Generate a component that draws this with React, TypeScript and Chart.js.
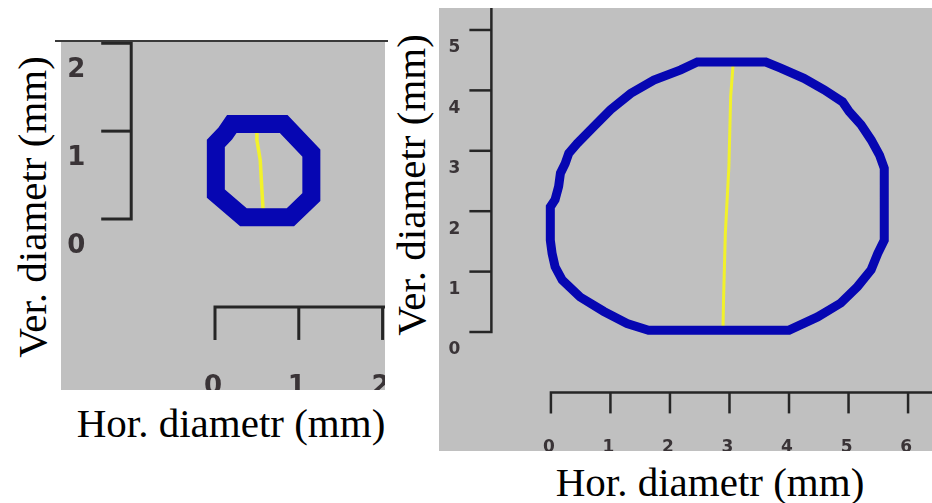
import { useEffect, useRef } from "react";
import { Chart, registerables } from "chart.js";

Chart.register(...registerables);

// Small cross-section (mm): closed contour and its vertical chord
const smallContourX = [0.2, 0.82, 1.15, 1.15, 0.9, 0.34, 0.01, 0.01, 0.12, 0.2];
const smallContourY = [1.08, 1.08, 0.75, 0.25, 0.02, 0.02, 0.29, 0.86, 0.97, 1.08];
const smallChordX = [0.5, 0.5, 0.54, 0.56, 0.58];
const smallChordY = [1.05, 0.9, 0.67, 0.33, 0.01];
const smallTicksX = [0, 1, 2];
const smallTicksY = [0, 1, 2];
const smallTickLabelsX = ["0", "1", "2"];
const smallTickLabelsY = ["0", "1", "2"];

// Large cross-section (mm): closed contour and its vertical chord
const largeContourX = [
  2.46, 3.61, 3.86, 4.25, 4.59, 4.9, 5.01, 5.21, 5.38, 5.52, 5.6, 5.6, 5.49, 5.38, 5.15, 4.87, 4.48, 4.0,
  1.64, 1.28, 0.89, 0.49, 0.19, 0.07, 0.02, -0.01, -0.01, 0.07, 0.13, 0.16, 0.24, 0.3, 0.44, 0.72, 1.0,
  1.34, 1.73, 2.18, 2.46,
];
const largeContourY = [
  4.47, 4.47, 4.37, 4.2, 4.01, 3.81, 3.65, 3.43, 3.18, 2.93, 2.71, 1.52, 1.3, 1.03, 0.75, 0.48, 0.25, 0.03,
  0.03, 0.14, 0.34, 0.58, 0.86, 1.08, 1.3, 1.52, 2.07, 2.19, 2.41, 2.63, 2.79, 2.96, 3.12, 3.4, 3.68,
  3.95, 4.17, 4.34, 4.47,
];
const largeChordX = [3.06, 3.02, 2.99, 2.93, 2.9, 2.89];
const largeChordY = [4.42, 3.9, 2.74, 1.63, 0.53, 0.01];
const largeTicksX = [0, 1, 2, 3, 4, 5, 6];
const largeTicksY = [0, 1, 2, 3, 4, 5];
const largeTickLabelsX = ["0", "1", "2", "3", "4", "5", "6"];
const largeTickLabelsY = ["0", "1", "2", "3", "4", "5"];

const horTitle = "Hor. diametr (mm)";
const verTitle = "Ver. diametr (mm)";

const zip = (xs: number[], ys: number[]) => xs.map((x, i) => ({ x, y: ys[i] }));

// A closed contour: the first segment is repeated so the stroke joins cleanly.
const closedLoop = (xs: number[], ys: number[]) => {
  const pts = zip(xs, ys);
  return pts.length > 1 ? [...pts, pts[1]] : pts;
};

type RulerStyle = {
  at: number;
  lineWidth: number;
  yTickLen: number;
  xTickLen: number;
  yToEdge: boolean;
  font: string;
  yLabelDx: number;
  yLabelDy: number;
  xLabelDx: number;
  xLabelDy: number;
};

type PanelProps = {
  left: number;
  top: number;
  width: number;
  height: number;
  xRange: [number, number];
  yRange: [number, number];
  contourX: number[];
  contourY: number[];
  chordX: number[];
  chordY: number[];
  contourWidth: number;
  chordWidth: number;
  ticksX: number[];
  ticksY: number[];
  labelsX: string[];
  labelsY: string[];
  ruler: RulerStyle;
};

// Ruler-style axes: a vertical ruler at x = at and a horizontal ruler at y = at,
// both drawn through the chart's own scales.
function rulerPlugin(p: PanelProps) {
  return {
    id: "rulers",
    afterDatasetsDraw(chart: any) {
      const { ctx, chartArea, scales } = chart;
      const sx = scales.x;
      const sy = scales.y;
      const r = p.ruler;
      const vx = sx.getPixelForValue(r.at);
      const hy = sy.getPixelForValue(r.at);
      ctx.save();
      ctx.strokeStyle = "#262626";
      ctx.lineWidth = r.lineWidth;
      ctx.lineCap = "butt";
      ctx.lineJoin = "miter";

      // vertical ruler
      const y0 = sy.getPixelForValue(p.ticksY[0]);
      const yEnd = r.yToEdge ? chartArea.top : sy.getPixelForValue(p.ticksY[p.ticksY.length - 1]);
      ctx.beginPath();
      ctx.moveTo(vx - r.yTickLen, y0);
      ctx.lineTo(vx, y0);
      ctx.lineTo(vx, yEnd);
      if (!r.yToEdge) ctx.lineTo(vx - r.yTickLen, yEnd);
      ctx.stroke();
      p.ticksY.forEach((t, i) => {
        const py = sy.getPixelForValue(t);
        if (i > 0 && (r.yToEdge || i < p.ticksY.length - 1)) {
          ctx.beginPath();
          ctx.moveTo(vx - r.yTickLen, py);
          ctx.lineTo(vx, py);
          ctx.stroke();
        }
      });

      // horizontal ruler
      const x0 = sx.getPixelForValue(p.ticksX[0]);
      ctx.beginPath();
      ctx.moveTo(x0, hy + r.xTickLen);
      ctx.lineTo(x0, hy);
      ctx.lineTo(chartArea.right, hy);
      ctx.stroke();
      p.ticksX.forEach((t, i) => {
        if (i === 0) return;
        const px = sx.getPixelForValue(t);
        ctx.beginPath();
        ctx.moveTo(px, hy);
        ctx.lineTo(px, hy + r.xTickLen);
        ctx.stroke();
      });

      // tick labels
      ctx.fillStyle = "#3a3437";
      ctx.font = r.font;
      ctx.textAlign = "center";
      ctx.textBaseline = "middle";
      p.ticksY.forEach((t, i) => {
        ctx.fillText(p.labelsY[i], vx + r.yLabelDx, sy.getPixelForValue(t) + r.yLabelDy);
      });
      p.ticksX.forEach((t, i) => {
        ctx.fillText(p.labelsX[i], sx.getPixelForValue(t) + r.xLabelDx, hy + r.xLabelDy);
      });
      ctx.restore();
    },
  };
}

function Panel(p: PanelProps) {
  const ref = useRef<HTMLCanvasElement | null>(null);
  useEffect(() => {
    if (!ref.current) return;
    const chart = new Chart(ref.current, {
      type: "scatter",
      data: {
        datasets: [
          {
            data: closedLoop(p.contourX, p.contourY),
            showLine: true,
            borderColor: "#0606b2",
            borderWidth: p.contourWidth,
            borderJoinStyle: "miter",
            pointRadius: 0,
            fill: false,
            tension: 0,
          },
          {
            data: zip(p.chordX, p.chordY),
            showLine: true,
            borderColor: "#f2f22a",
            borderWidth: p.chordWidth,
            borderJoinStyle: "round",
            pointRadius: 0,
            fill: false,
            tension: 0,
          },
        ],
      },
      options: {
        animation: false,
        responsive: false,
        devicePixelRatio: 1,
        layout: { padding: 0 },
        events: [],
        scales: {
          x: { type: "linear", display: false, min: p.xRange[0], max: p.xRange[1] },
          y: { type: "linear", display: false, min: p.yRange[0], max: p.yRange[1] },
        },
        plugins: { legend: { display: false }, tooltip: { enabled: false } },
      },
      plugins: [rulerPlugin(p)],
    });
    return () => chart.destroy();
  }, []);
  return (
    <canvas
      ref={ref}
      width={p.width}
      height={p.height}
      style={{
        position: "absolute",
        left: p.left,
        top: p.top,
        width: p.width,
        height: p.height,
        background: "#c0c0c0",
      }}
    />
  );
}

const titleStyle: React.CSSProperties = {
  position: "absolute",
  fontFamily: '"Liberation Serif", "Times New Roman", serif',
  fontSize: 41,
  lineHeight: 1,
  color: "#000",
  whiteSpace: "nowrap",
};

function Title({ text, cx, cy, vertical }: { text: string; cx: number; cy: number; vertical?: boolean }) {
  return (
    <div
      style={{
        ...titleStyle,
        left: cx,
        top: cy,
        transform: vertical ? "translate(-50%, -50%) rotate(-90deg)" : "translate(-50%, -50%)",
      }}
    >
      {text}
    </div>
  );
}

export default function App() {
  return (
    <div
      style={{
        position: "absolute",
        left: 0,
        top: 0,
        width: 932,
        height: 503,
        background: "#fff",
        overflow: "hidden",
      }}
    >
      <div style={{ position: "absolute", left: 55, top: 40, width: 333, height: 2, background: "#3a3a3a" }} />
      <Panel
        left={61}
        top={42}
        width={324}
        height={348}
        xRange={[-1.838, 2.029]}
        yRange={[-1.945, 2.014]}
        contourX={smallContourX}
        contourY={smallContourY}
        chordX={smallChordX}
        chordY={smallChordY}
        contourWidth={18}
        chordWidth={3.5}
        ticksX={smallTicksX}
        ticksY={smallTicksY}
        labelsX={smallTickLabelsX}
        labelsY={smallTickLabelsY}
        ruler={{
          at: -1,
          lineWidth: 3,
          yTickLen: 30,
          xTickLen: 33,
          yToEdge: false,
          font: 'bold 26px "DejaVu Sans", Verdana, sans-serif',
          yLabelDx: -55,
          yLabelDy: 27,
          xLabelDx: -2,
          xLabelDy: 80,
        }}
      />
      <Panel
        left={439}
        top={8}
        width={493}
        height={443}
        xRange={[-1.88, 6.402]}
        yRange={[-1.97, 5.364]}
        contourX={largeContourX}
        contourY={largeContourY}
        chordX={largeChordX}
        chordY={largeChordY}
        contourWidth={9}
        chordWidth={3}
        ticksX={largeTicksX}
        ticksY={largeTicksY}
        labelsX={largeTickLabelsX}
        labelsY={largeTickLabelsY}
        ruler={{
          at: -1,
          lineWidth: 2.5,
          yTickLen: 22,
          xTickLen: 21,
          yToEdge: true,
          font: 'bold 17px "DejaVu Sans", Verdana, sans-serif',
          yLabelDx: -37,
          yLabelDy: 18,
          xLabelDx: -2,
          xLabelDy: 55,
        }}
      />
      <Title text={verTitle} cx={32} cy={207} vertical />
      <Title text={horTitle} cx={231} cy={423} />
      <Title text={verTitle} cx={411} cy={185} vertical />
      <Title text={horTitle} cx={710} cy={482} />
    </div>
  );
}
